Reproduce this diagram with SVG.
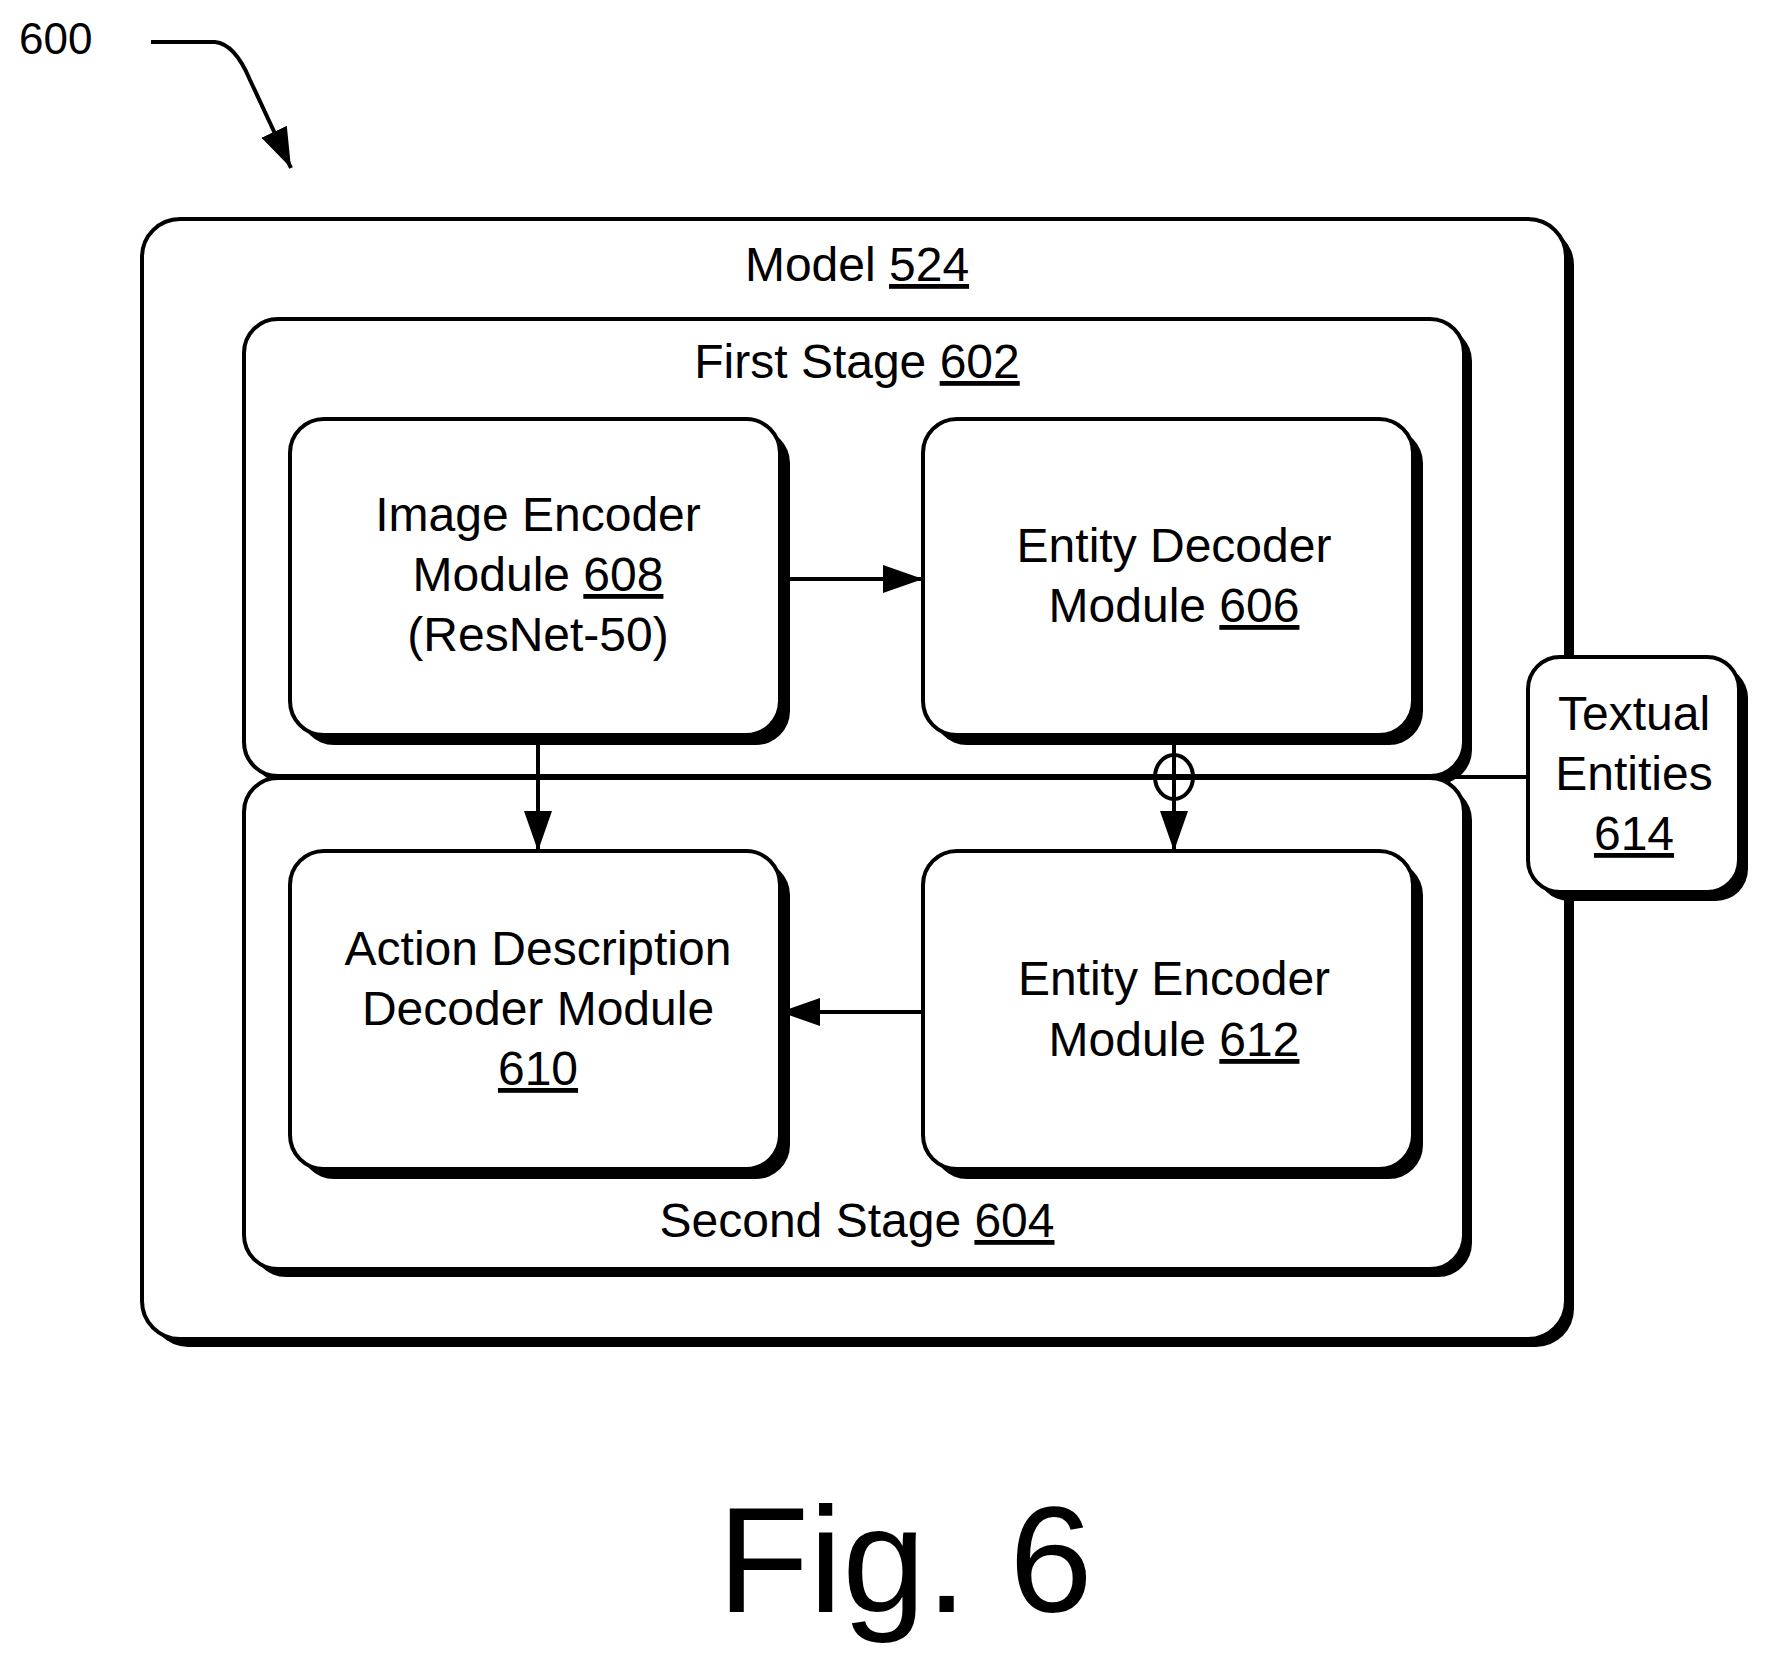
<svg xmlns="http://www.w3.org/2000/svg" width="1770" height="1657" viewBox="0 0 1770 1657">
<style>
.sh{fill:#000}
.bx{fill:#fff;stroke:#000;stroke-width:4}
text{font-family:"Liberation Sans",Arial,sans-serif;font-size:48px;text-anchor:middle;fill:#000}
.ln{stroke:#000;stroke-width:4;fill:none}
</style>
<defs>
<marker id="arb" viewBox="0 0 40 28" refX="40" refY="14" markerWidth="40" markerHeight="28" markerUnits="userSpaceOnUse" orient="auto"><path d="M0,0 L40,14 L0,28 z"/></marker>
</defs>
<rect width="1770" height="1657" fill="#fff"/>
<g id="label600">
<text x="19" y="54" style="text-anchor:start;font-size:44px">600</text>
<path class="ln" d="M151,42 L215,42 Q235,44 250,80 L291,168" marker-end="url(#arb)"/>
</g>
<g id="model">
<rect class="sh" x="150" y="227" width="1424" height="1120" rx="38"/>
<rect class="bx" x="142" y="219" width="1424" height="1120" rx="38"/>
<text x="857" y="281">Model <tspan text-decoration="underline">524</tspan></text>
</g>
<g id="stage1">
<rect class="sh" x="252" y="327" width="1220" height="457" rx="34"/>
<rect class="bx" x="244" y="319" width="1220" height="457" rx="34"/>
<text x="857" y="378">First Stage <tspan text-decoration="underline">602</tspan></text>
</g>
<g id="stage2">
<rect class="sh" x="252" y="786" width="1220" height="491" rx="34"/>
<rect class="bx" x="244" y="778" width="1220" height="491" rx="34"/>
<text x="857" y="1237">Second Stage <tspan text-decoration="underline">604</tspan></text>
</g>
<g id="textual">
<rect class="sh" x="1537" y="666" width="211" height="235" rx="32"/>
<rect class="bx" x="1528" y="657" width="211" height="235" rx="32"/>
<text x="1634" y="730">Textual</text>
<text x="1634" y="790">Entities</text>
<text x="1634" y="850" text-decoration="underline">614</text>
</g>
<g id="imgenc">
<rect class="sh" x="300" y="429" width="490" height="316" rx="34"/>
<rect class="bx" x="290" y="419" width="490" height="316" rx="34"/>
<text x="538" y="531">Image Encoder</text>
<text x="538" y="591">Module <tspan text-decoration="underline">608</tspan></text>
<text x="538" y="651">(ResNet-50)</text>
</g>
<g id="entdec">
<rect class="sh" x="933" y="429" width="490" height="316" rx="34"/>
<rect class="bx" x="923" y="419" width="490" height="316" rx="34"/>
<text x="1174" y="562">Entity Decoder</text>
<text x="1174" y="622">Module <tspan text-decoration="underline">606</tspan></text>
</g>
<g id="actdec">
<rect class="sh" x="300" y="861" width="490" height="318" rx="34"/>
<rect class="bx" x="290" y="851" width="490" height="318" rx="34"/>
<text x="538" y="965">Action Description</text>
<text x="538" y="1025">Decoder Module</text>
<text x="538" y="1085" text-decoration="underline">610</text>
</g>
<g id="entenc">
<rect class="sh" x="933" y="861" width="490" height="318" rx="34"/>
<rect class="bx" x="923" y="851" width="490" height="318" rx="34"/>
<text x="1174" y="995">Entity Encoder</text>
<text x="1174" y="1056">Module <tspan text-decoration="underline">612</tspan></text>
</g>
<g id="connectors">
<path class="ln" d="M270,777 L1528,777"/>
<path class="ln" d="M780,579 L923,579" marker-end="url(#arb)"/>
<path class="ln" d="M538,745 L538,851" marker-end="url(#arb)"/>
<path class="ln" d="M1174,745 L1174,851" marker-end="url(#arb)"/>
<ellipse class="ln" cx="1174" cy="777" rx="19" ry="22"/>
<path class="ln" d="M923,1012 L780,1012" marker-end="url(#arb)"/>
</g>
<g id="fig">
<text x="905" y="1612" style="font-size:150px">Fig. 6</text>
</g>
</svg>
